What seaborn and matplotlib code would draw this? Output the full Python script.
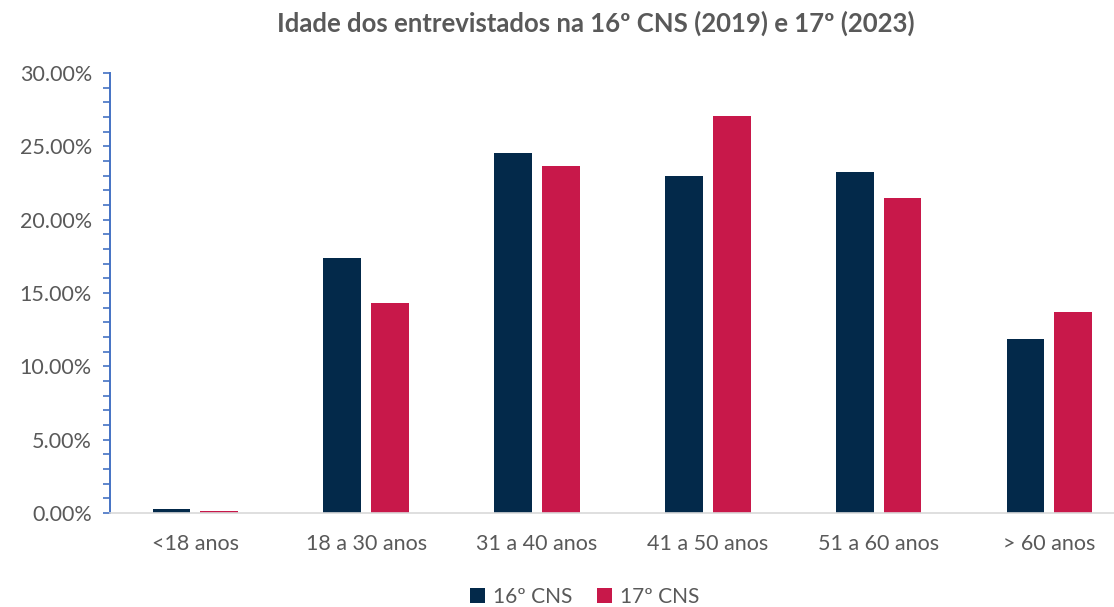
import pandas as pd
import seaborn as sns
import matplotlib.pyplot as plt
from matplotlib.ticker import MultipleLocator, FuncFormatter

faixas = ['<18 anos', '18 a 30 anos', '31 a 40 anos', '41 a 50 anos', '51 a 60 anos', '> 60 anos']
cns16 = [0.24, 17.38, 24.54, 22.97, 23.24, 11.86]
cns17 = [0.12, 14.31, 23.65, 27.06, 21.47, 13.70]
series = ['16º CNS', '17º CNS']

df = pd.DataFrame({
    'faixa': faixas * 2,
    'valor': cns16 + cns17,
    'edicao': [series[0]] * len(faixas) + [series[1]] * len(faixas),
})

sns.set_style('white')
plt.rcParams['font.family'] = ['Lato', 'DejaVu Sans']

fig = plt.figure(figsize=(11.14, 6.07), dpi=100)
ax = fig.add_axes([0.0987, 0.1549, 0.920, 0.7249])

sns.barplot(data=df, x='faixa', y='valor', hue='edicao', order=faixas,
            palette=['#03294A', '#C8184A'], width=0.56, gap=0.21,
            saturation=1, linewidth=0, ax=ax)

ax.set_ylim(0, 30)
ax.set_xlim(-0.5, 5.5)
ax.yaxis.set_major_locator(MultipleLocator(5))
ax.yaxis.set_minor_locator(MultipleLocator(1))
ax.yaxis.set_major_formatter(FuncFormatter(lambda v, p: f'{v:.2f}%'))
ax.tick_params(axis='y', which='both', direction='out', left=True, color='#4472C4',
               width=1.2, labelsize=15.5, labelcolor='#595959', pad=8)
ax.tick_params(axis='y', which='major', length=5)
ax.tick_params(axis='y', which='minor', length=5)
ax.tick_params(axis='x', length=0, labelsize=15.5, labelcolor='#595959', pad=15)

for s in ['top', 'right']:
    ax.spines[s].set_visible(False)
ax.spines['left'].set_color('#4472C4')
ax.spines['left'].set_linewidth(1.4)
ax.spines['bottom'].set_color('#D9D9D9')
ax.spines['bottom'].set_linewidth(1.2)
ax.set_xlabel('')
ax.set_ylabel('')

fig.suptitle('Idade dos entrevistados na 16º CNS (2019) e 17º (2023)',
             x=0.535, y=0.982, fontsize=18.5, fontweight='bold', color='#595959')

handles, labels = ax.get_legend_handles_labels()
ax.legend_.remove()
fig.legend(handles, labels, loc='center', bbox_to_anchor=(0.525, 0.017), ncol=2,
           frameon=False, fontsize=15, labelcolor='#595959', handlelength=0.7,
           handleheight=0.7, handletextpad=0.4, columnspacing=1.2)

fig.savefig('out.png', dpi=100)
